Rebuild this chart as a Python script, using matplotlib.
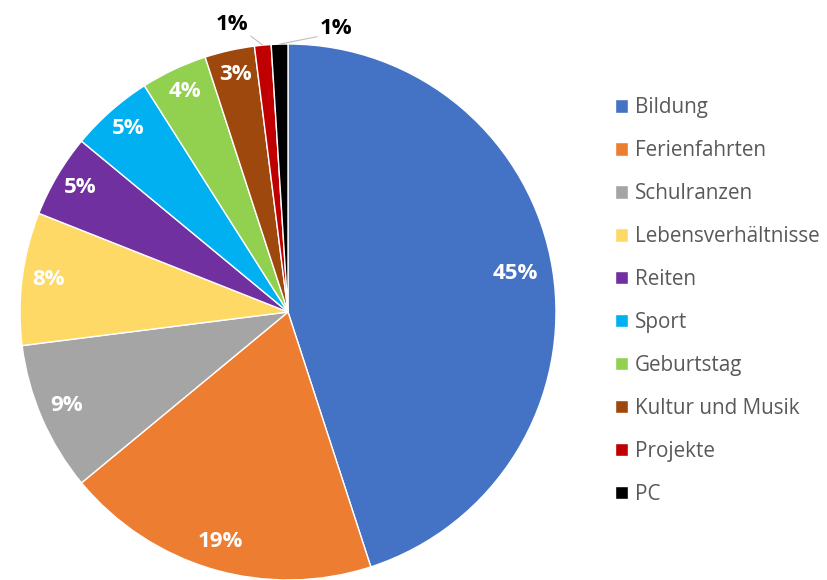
import numpy as np
from matplotlib import pyplot as plt

# Anteile je Bereich (in %)
labels = ['Bildung', 'Ferienfahrten', 'Schulranzen', 'Lebensverhältnisse', 'Reiten',
          'Sport', 'Geburtstag', 'Kultur und Musik', 'Projekte', 'PC']
values = [45, 19, 9, 8, 5, 5, 4, 3, 1, 1]
colors = ['#4472C4', '#ED7D31', '#A5A5A5', '#FFD966', '#7030A0',
          '#00B0F0', '#92D050', '#9E480E', '#C00000', '#000000']

plt.rcParams['font.family'] = ['Open Sans', 'DejaVu Sans']

W, H = 827, 580
fig = plt.figure(figsize=(W / 100, H / 100), dpi=100)

# pie centre (288, 312) px, radius 268 px
cx, cy, r = 288, 312, 268
ax = fig.add_axes([(cx - r) / W, (H - cy - r) / H, 2 * r / W, 2 * r / H])

wedges, _ = ax.pie(values, colors=colors, startangle=90, counterclock=False,
                   wedgeprops=dict(edgecolor='white', linewidth=1.0))
ax.set_xlim(-1, 1)
ax.set_ylim(-1, 1)
ax.set_aspect('equal')
ax.axis('off')

total = float(sum(values))
start = 90.0
for i, v in enumerate(values):
    mid = start - 360.0 * v / total / 2
    start -= 360.0 * v / total
    a = np.deg2rad(mid)
    txt = '%d%%' % round(100 * v / total)
    if v / total >= 0.02:
        d = 0.86 if i == 0 else 0.9
        ax.text(d * np.cos(a), d * np.sin(a) + 0.008, txt, ha='center', va='center',
                color='white', fontsize=16, fontweight='bold')
    else:
        xe, ye = 1.0 * np.cos(a), 1.0 * np.sin(a)
        if i == 8:
            xt, yt = -0.21, 1.035
        else:
            xt, yt = 0.18, 1.02
        ax.annotate(txt, xy=(xe, ye), xytext=(xt, yt), ha='center', va='bottom',
                    fontsize=16, fontweight='bold', color='black',
                    arrowprops=dict(arrowstyle='-', color='#BFBFBF', lw=0.8,
                                    shrinkA=0, shrinkB=0, relpos=(0.9 if i == 8 else 0.1, 0.15)),
                    annotation_clip=False)

leg = fig.legend(wedges, labels, loc='center left', bbox_to_anchor=(615 / W, 1 - 301 / H),
                 frameon=False, fontsize=14.9, handlelength=0.62, handleheight=0.62,
                 handletextpad=0.35, labelspacing=1.06, borderpad=0, borderaxespad=0)
for t in leg.get_texts():
    t.set_color('#595959')

fig.savefig('out.png', dpi=100)
